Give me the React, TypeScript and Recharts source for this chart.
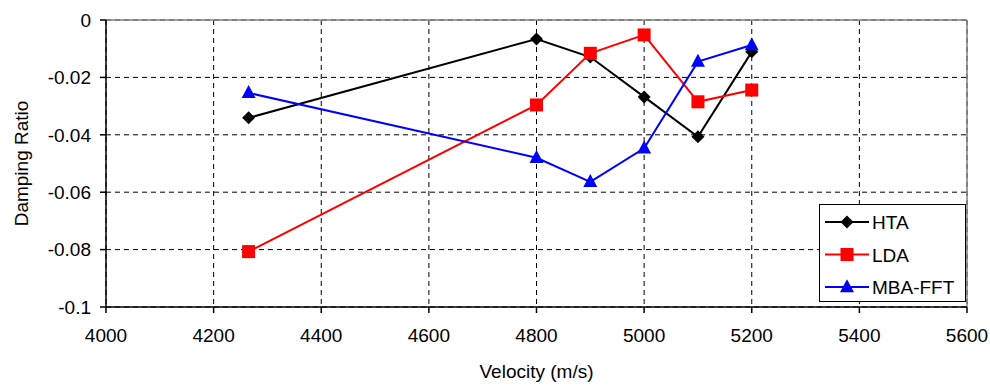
import React from "react";
import {
  LineChart,
  Line,
  XAxis,
  YAxis,
  CartesianGrid,
  ReferenceLine,
  Label,
} from "recharts";

const velocities = [4265, 4800, 4900, 5000, 5100, 5200];
const htaValues = [-0.0341, -0.0066, -0.0129, -0.0268, -0.0407, -0.0111];
const ldaValues = [-0.0807, -0.0296, -0.0116, -0.0052, -0.0285, -0.0244];
const mbaValues = [-0.0254, -0.048, -0.0564, -0.0447, -0.0145, -0.0087];
const xTicks = [4000, 4200, 4400, 4600, 4800, 5000, 5200, 5400, 5600];
const yTicks = [0, -0.02, -0.04, -0.06, -0.08, -0.1];
const seriesNames = ["HTA", "LDA", "MBA-FFT"];

const data = velocities.map((v, i) => ({
  v,
  hta: htaValues[i],
  lda: ldaValues[i],
  mba: mbaValues[i],
}));

const FONT = "'Liberation Sans', Arial, sans-serif";

const Diamond = (props: any) => {
  const { cx, cy } = props;
  if (cx == null || cy == null) return null;
  const r = 6.5;
  return (
    <polygon
      points={`${cx},${cy - r} ${cx + r},${cy} ${cx},${cy + r} ${cx - r},${cy}`}
      fill="#000000"
    />
  );
};
const Square = (props: any) => {
  const { cx, cy } = props;
  if (cx == null || cy == null) return null;
  const s = 13;
  return <rect x={cx - s / 2} y={cy - s / 2} width={s} height={s} fill="#FF0000" />;
};
const Triangle = (props: any) => {
  const { cx, cy } = props;
  if (cx == null || cy == null) return null;
  const w = 14;
  const h = 13;
  return (
    <polygon
      points={`${cx},${cy - h * 0.6} ${cx + w / 2},${cy + h * 0.4} ${cx - w / 2},${cy + h * 0.4}`}
      fill="#0000FF"
    />
  );
};

const legendItems = [
  { name: seriesNames[0], color: "#000000", Shape: Diamond },
  { name: seriesNames[1], color: "#FF0000", Shape: Square },
  { name: seriesNames[2], color: "#0000FF", Shape: Triangle },
];

const LegendBox = () => (
  <svg width={147} height={98} style={{ display: "block" }}>
    <rect x={0.5} y={0.5} width={146} height={97} fill="#ffffff" stroke="#000000" strokeWidth={1} />
    {legendItems.map((it, i) => {
      const y = 18 + i * 32.5;
      const S = it.Shape;
      return (
        <g key={it.name}>
          <line x1={6} x2={50} y1={y} y2={y} stroke={it.color} strokeWidth={2} />
          <S cx={28} cy={y} />
          <text x={53} y={y + 7} fontSize={19} fontFamily={FONT} fill="#000000">
            {it.name}
          </text>
        </g>
      );
    })}
  </svg>
);

const fmtY = (v: number) => {
  if (v === 0) return "0";
  return String(Math.round(v * 100) / 100);
};

export default function App() {
  return (
    <div style={{ position: "absolute", left: 0, top: 0, width: 990, height: 385, background: "#fff" }}>
      <LineChart
        width={990}
        height={385}
        data={data}
        margin={{ top: 20, right: 23, left: 0, bottom: 0 }}
      >
        <CartesianGrid stroke="#000000" strokeDasharray="5 4" strokeWidth={1} />
        <XAxis
          dataKey="v"
          type="number"
          domain={[4000, 5600]}
          ticks={xTicks}
          interval={0}
          height={78}
          stroke="#000000"
          strokeWidth={1.5}
          tickSize={6}
          tick={{ fill: "#000000", fontSize: 19, fontFamily: FONT, dy: 14 }}
        >
          <Label
            value="Velocity (m/s)"
            position="insideBottom"
            offset={7}
            style={{ fill: "#000000", fontSize: 19, fontFamily: FONT }}
          />
        </XAxis>
        <YAxis
          type="number"
          domain={[-0.1, 0]}
          ticks={yTicks}
          interval={0}
          width={106}
          stroke="#000000"
          strokeWidth={1.5}
          tickSize={6}
          tickFormatter={fmtY}
          tick={{ fill: "#000000", fontSize: 19, fontFamily: FONT, dx: -7 }}
        >
          <Label
            value="Damping Ratio"
            angle={-90}
            position="insideLeft"
            offset={21}
            style={{ fill: "#000000", fontSize: 19, fontFamily: FONT, textAnchor: "middle" }}
          />
        </YAxis>
        <ReferenceLine y={0} stroke="#808080" strokeWidth={1.5} />
        <ReferenceLine x={5600} stroke="#808080" strokeWidth={1.5} />
        <Line
          dataKey="hta"
          name={seriesNames[0]}
          stroke="#000000"
          strokeWidth={2}
          dot={<Diamond />}
          activeDot={false}
          isAnimationActive={false}
        />
        <Line
          dataKey="lda"
          name={seriesNames[1]}
          stroke="#FF0000"
          strokeWidth={2}
          dot={<Square />}
          activeDot={false}
          isAnimationActive={false}
        />
        <Line
          dataKey="mba"
          name={seriesNames[2]}
          stroke="#0000FF"
          strokeWidth={2}
          dot={<Triangle />}
          activeDot={false}
          isAnimationActive={false}
        />
      </LineChart>
      <div style={{ position: "absolute", left: 819, top: 204, width: 147, height: 98 }}>
        <LegendBox />
      </div>
    </div>
  );
}
